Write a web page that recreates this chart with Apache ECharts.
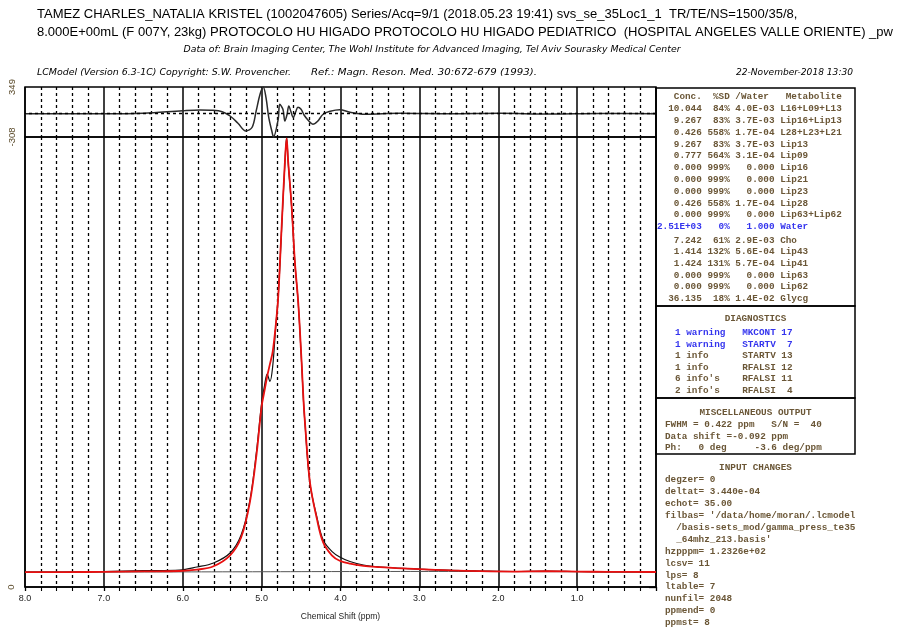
<!DOCTYPE html>
<html><head><meta charset="utf-8">
<script src="https://cdn.jsdelivr.net/npm/echarts@6/dist/echarts.min.js"></script>
<style>html,body{margin:0;padding:0;background:#fff}#c{width:897px;height:630px}</style>
</head><body><div id="c"></div>
<script>
// ---------- texts ----------
const titleLine1 = 'TAMEZ CHARLES_NATALIA KRISTEL (1002047605) Series/Acq=9/1 (2018.05.23 19:41) svs_se_35Loc1_1  TR/TE/NS=1500/35/8,';
const titleLine2 = '8.000E+00mL (F 007Y, 23kg) PROTOCOLO HU HIGADO PROTOCOLO HU HIGADO PEDIATRICO  (HOSPITAL ANGELES VALLE ORIENTE) _pw';
const titleLine3 = 'Data of: Brain Imaging Center, The Wohl Institute for Advanced Imaging, Tel Aviv Sourasky Medical Center';
const creditLeft = 'LCModel (Version 6.3-1C) Copyright: S.W. Provencher.';
const creditRef = 'Ref.: Magn. Reson. Med. 30:672-679 (1993).';
const creditDate = '22-November-2018 13:30';
const xAxisName = 'Chemical Shift (ppm)';
const xTickLabels = ['8.0','7.0','6.0','5.0','4.0','3.0','2.0','1.0'];

// ---------- concentration table ----------
const concVals  = ['10.044','9.267','0.426','9.267','0.777','0.000','0.000','0.000','0.426','0.000','2.51E+03','7.242','1.414','1.424','0.000','0.000','36.135'];
const sdVals    = ['84%','83%','558%','83%','564%','999%','999%','999%','558%','999%','0%','61%','132%','131%','999%','999%','18%'];
const ratioVals = ['4.0E-03','3.7E-03','1.7E-04','3.7E-03','3.1E-04','0.000','0.000','0.000','1.7E-04','0.000','1.000','2.9E-03','5.6E-04','5.7E-04','0.000','0.000','1.4E-02'];
const metabNames= ['L16+L09+L13','Lip16+Lip13','L28+L23+L21','Lip13','Lip09','Lip16','Lip21','Lip23','Lip28','Lip63+Lip62','Water','Cho','Lip43','Lip41','Lip63','Lip62','Glycg'];
const referenceName = 'Water';

// ---------- diagnostics ----------
const diagCounts   = ['1 warning','1 warning','1 info','1 info',"6 info's","2 info's"];
const diagRoutines = ['MKCONT','STARTV','STARTV','RFALSI','RFALSI','RFALSI'];
const diagCodes    = ['17','7','13','12','11','4'];
const diagWarning  = [true,true,false,false,false,false];

const miscLines = ['FWHM = 0.422 ppm   S/N =  40','Data shift =-0.092 ppm','Ph:   0 deg     -3.6 deg/ppm'];
const inputLines = ['degzer= 0','deltat= 3.440e-04','echot= 35.00',"filbas= '/data/home/moran/.lcmodel",'  /basis-sets_mod/gamma_press_te35',"  _64mhz_213.basis'",'hzpppm= 1.2326e+02','lcsv= 11','lps= 8','ltable= 7','nunfil= 2048','ppmend= 0','ppmst= 8'];

// ---------- spectrum (ppm, intensity) ----------
const specPpm  = [8.0, 7.5, 7.0, 6.5, 6.04, 5.82, 5.61, 5.40, 5.26, 5.148, 5.063, 5.0, 4.965, 4.93, 4.895, 4.86, 4.82, 4.79, 4.747, 4.705, 4.683, 4.663, 4.62, 4.578, 4.536, 4.493, 4.47, 4.451, 4.388, 4.30, 4.22, 4.11, 4.01, 3.88, 3.71, 3.5, 3.29, 3.0, 2.6, 2.23, 1.8, 1.4, 1.0, 0.6, 0.0];
const specData = [303, 303, 313, 330, 343, 404, 485, 687, 1050, 1757, 2767, 3716, 4050, 4300, 4150, 4450, 5280, 5850, 7210, 8563, 9088, 8563, 7674, 6543, 5735, 4524, 3776, 3312, 2100, 1414, 949, 720, 606, 515, 444, 404, 384, 360, 335, 323, 313, 323, 313, 305, 303];
const specFit  = [300, 302, 305, 315, 323, 350, 420, 640, 1000, 1720, 2700, 3650, 3950, 4250, 4500, 4750, 5300, 5850, 7250, 8580, 9060, 8580, 7700, 6560, 5750, 4540, 3800, 3330, 2120, 1380, 900, 640, 530, 470, 425, 400, 380, 360, 335, 320, 312, 318, 312, 305, 303];
const basePpm  = [8.0, 6.0, 5.0, 4.0, 3.0, 2.0, 1.0, 0.0];
const baseVals = [300, 305, 308, 312, 314, 312, 308, 303];
const specMax = 9088;

// ---------- residual (ppm, data - fit) ----------
const residPpm  = [8.0, 7.0, 6.5, 6.0, 5.78, 5.62, 5.50, 5.40, 5.30, 5.20, 5.12, 5.07, 5.02, 4.98, 4.945, 4.91, 4.87, 4.85, 4.79, 4.77, 4.73, 4.705, 4.68, 4.655, 4.63, 4.60, 4.565, 4.54, 4.50, 4.46, 4.41, 4.35, 4.29, 4.22, 4.13, 4.01, 3.88, 3.69, 3.25, 2.61, 1.98, 1.35, 0.71, 0.0];
const residVals = [-3, -3, 4, 37, 47, 43, 24, -32, -127, -229, -180, 30, 254, 349, 214, -49, -233, -308, -75, 122, 56, -97, -22, 100, 30, -49, 30, 83, 56, -22, -88, -141, -101, -9, 30, 50, 17, -9, 4, -3, 4, -7, 0, -3];
const residMin = -308, residMax = 349;

const pairs = (xs, ys) => xs.map((x, i) => [x, ys[i]]);

// ---------- layout helpers ----------
const ctx = document.createElement('canvas').getContext('2d');
function cssFont(f) { return (f.style || 'normal') + ' ' + (f.weight || 'normal') + ' ' + f.size + 'px ' + f.family; }
function tw(f, s) { ctx.font = cssFont(f); return ctx.measureText(s).width; }
const BROWN = '#6a5636', BLUE = '#3434ee';
const els = [];
function txt(x, y, s, f, fill, opt) {
  opt = opt || {};
  const e = { type: 'text', x: x, y: y, silent: true, z: 10,
    style: { text: s, fontSize: f.size, fontFamily: f.family, fontStyle: f.style || 'normal',
      fontWeight: f.weight || 'normal', fill: fill, align: opt.align || 'left', verticalAlign: 'middle' } };
  if (opt.width) e.scaleX = opt.width / tw(f, s);
  if (opt.scaleX) e.scaleX = opt.scaleX;
  els.push(e);
}
const tFont = { size: 13.5, family: 'Liberation Sans' };
const tScale = 856 / tw(tFont, titleLine2);
txt(37, 14, titleLine1, tFont, '#000', { scaleX: tScale });
txt(37, 32, titleLine2, tFont, '#000', { scaleX: tScale });
const iFont = { size: 9, family: 'DejaVu Sans', style: 'oblique' };
txt(432, 50, titleLine3, iFont, '#000', { align: 'center', width: 497 });
txt(37, 73, creditLeft, iFont, '#000', { width: 254 });
txt(311, 73, creditRef, iFont, '#000', { width: 226 });
txt(853, 73, creditDate, iFont, '#000', { align: 'right', width: 117 });

// boxes
const boxL = 656, boxR = 855;
[[88, 306], [306, 398], [398, 454]].forEach(([a, b]) => {
  els.push({ type: 'rect', silent: true, z: 5, shape: { x: boxL, y: a, width: boxR - boxL, height: b - a },
    style: { fill: 'none', stroke: '#000', lineWidth: 1.5 } });
});

const mFont = { size: 9.33, family: 'Liberation Mono', weight: 'bold' };
txt(657, 97, '   Conc.  %SD /Water   Metabolite', mFont, BROWN);
metabNames.forEach((n, i) => {
  const line = concVals[i].padStart(8) + ' ' + sdVals[i].padStart(4) + ' ' + ratioVals[i].padStart(7) + ' ' + n;
  const y = i <= 10 ? 97 + 11.8 * (i + 1) : 240.5 + 11.6 * (i - 11);
  txt(657, y, line, mFont, n === referenceName ? BLUE : BROWN);
});
const midX = (boxL + boxR) / 2;
txt(midX, 319, 'DIAGNOSTICS', mFont, BROWN, { align: 'center' });
diagCounts.forEach((c, i) => {
  const line = c.padEnd(12) + diagRoutines[i] + ' ' + diagCodes[i].padStart(2);
  txt(675, 332.7 + 11.6 * i, line, mFont, diagWarning[i] ? BLUE : BROWN);
});
txt(midX, 412.7, 'MISCELLANEOUS OUTPUT', mFont, BROWN, { align: 'center' });
miscLines.forEach((s, i) => txt(665, 425 + 11.5 * i, s, mFont, BROWN));
txt(midX, 468, 'INPUT CHANGES', mFont, BROWN, { align: 'center' });
inputLines.forEach((s, i) => txt(665, 480 + 11.9 * i, s, mFont, BROWN));

// ---------- chart ----------
const chart = echarts.init(document.getElementById('c'), null, { renderer: 'canvas' });
const gridLine = { color: '#000', width: 1.5 };
const minorLine = { color: '#000', width: 1.3, type: [3, 3] };
function xAx(gi, bottom) {
  return {
    type: 'value', gridIndex: gi, min: 0, max: 8, interval: 1, inverse: true,
    axisLine: { show: bottom, lineStyle: { color: '#000', width: 1.5 } },
    axisTick: { show: bottom, length: 4, lineStyle: { color: '#000', width: 1.3 } },
    minorTick: { show: bottom, splitNumber: 5, length: 4, lineStyle: { color: '#000', width: 1.1 } },
    splitLine: { show: true, lineStyle: gridLine },
    minorSplitLine: { show: true, lineStyle: minorLine },
    axisLabel: { show: bottom, fontSize: 9, color: '#222', margin: 7, fontFamily: 'Liberation Sans',
      formatter: v => (v >= 1 ? xTickLabels[8 - Math.round(v)] : '') },
    name: bottom ? xAxisName : '', nameLocation: 'middle', nameGap: 25,
    nameTextStyle: { fontSize: 8.5, color: '#222', fontFamily: 'Liberation Sans' }
  };
}
chart.setOption({
  animation: false,
  textStyle: { fontFamily: 'Liberation Sans' },
  grid: [
    { left: 25, top: 87, width: 631, height: 50, show: true, borderColor: '#000', borderWidth: 1.5 },
    { left: 25, top: 137, width: 631, height: 450, show: true, borderColor: '#000', borderWidth: 1.5 }
  ],
  xAxis: [xAx(0, false), xAx(1, true)],
  yAxis: [
    { type: 'value', gridIndex: 0, min: residMin, max: residMax, splitLine: { show: false },
      axisLine: { show: false },
      axisTick: { show: true, customValues: [0], length: 5, lineStyle: { color: '#000', width: 1.3 } },
      axisLabel: { customValues: [residMin, residMax], rotate: 90, fontSize: 9.5, color: '#5a4a2a', margin: 8,
        formatter: v => String(v) } },
    { type: 'value', gridIndex: 1, min: 0, max: specMax, splitLine: { show: false },
      axisLine: { show: false },
      axisTick: { show: true, customValues: [0], length: 7, lineStyle: { color: '#000', width: 1.3 } },
      axisLabel: { customValues: [0], rotate: 90, fontSize: 9.5, color: '#5a4a2a', margin: 9,
        formatter: v => String(v) } }
  ],
  series: [
    { type: 'line', xAxisIndex: 0, yAxisIndex: 0, data: pairs(residPpm, residVals), smooth: 0.35,
      showSymbol: false, lineStyle: { color: '#2a2a2a', width: 1.5 },
      markLine: { silent: true, symbol: 'none', label: { show: false },
        lineStyle: { color: '#000', width: 1.3, type: [3, 3] }, data: [{ yAxis: 0 }] } },
    { type: 'line', xAxisIndex: 1, yAxisIndex: 1, data: pairs(basePpm, baseVals), smooth: 0.3,
      showSymbol: false, lineStyle: { color: '#555', width: 1 } },
    { type: 'line', xAxisIndex: 1, yAxisIndex: 1, data: pairs(specPpm, specData), smooth: 0.35,
      showSymbol: false, lineStyle: { color: '#111', width: 1.2 } },
    { type: 'line', xAxisIndex: 1, yAxisIndex: 1, data: pairs(specPpm, specFit), smooth: 0.35,
      showSymbol: false, lineStyle: { color: '#e81010', width: 1.8 } }
  ],
  graphic: { elements: els }
});
</script>
</body></html>
